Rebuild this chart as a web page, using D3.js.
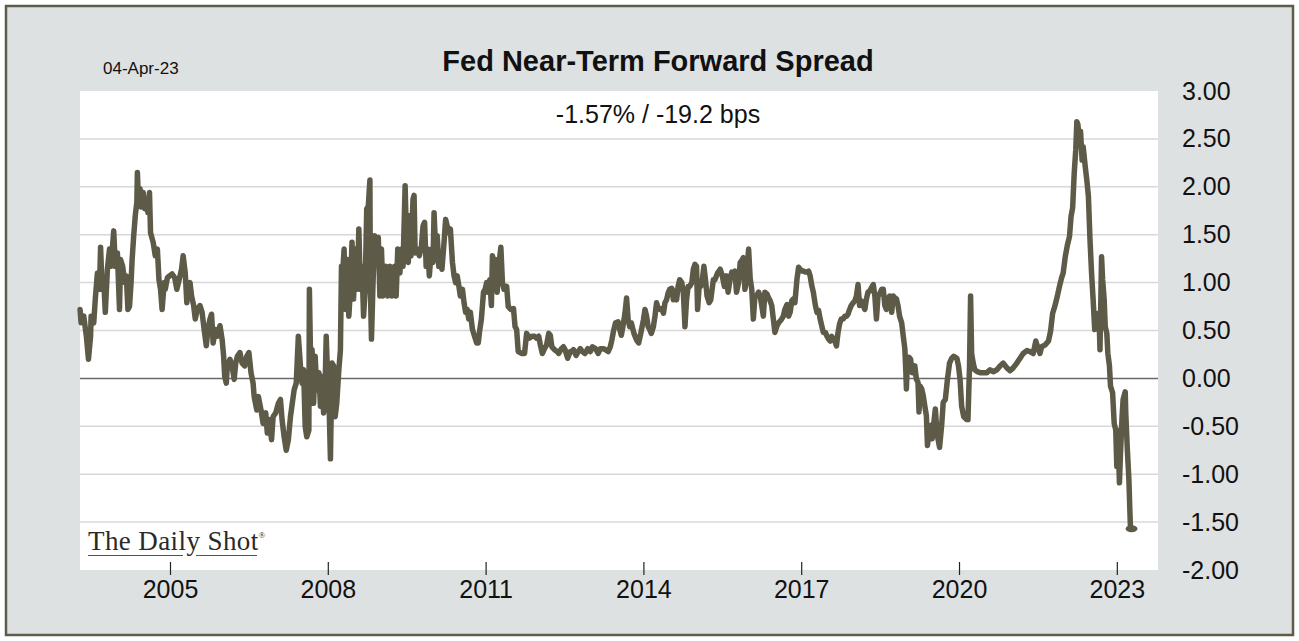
<!DOCTYPE html>
<html><head><meta charset="utf-8">
<script src="https://cdn.jsdelivr.net/npm/d3@7"></script>
<style>
html,body{margin:0;padding:0;background:#fff;}
svg{display:block;}
</style></head><body>
<svg id="chart" width="1299" height="641"></svg>
<script>
const titleText = "Fed Near-Term Forward Spread";
const dateLabel = "04-Apr-23";
const subtitleText = "-1.57% / -19.2 bps";
const logoText = "The Daily Shot";
const xTickYears = [2005, 2008, 2011, 2014, 2017, 2020, 2023];
const yTickValues = [3, 2.5, 2, 1.5, 1, 0.5, 0, -0.5, -1, -1.5, -2];

// decimal years (weekly-ish samples)
const years = [
 2003.29,2003.31,2003.36,2003.41,2003.45,2003.49,2003.50,2003.55,2003.58,2003.62,
 2003.66,2003.68,2003.71,2003.74,2003.77,2003.81,2003.85,2003.88,2003.93,2003.96,
 2004.00,2004.04,2004.06,2004.10,2004.14,2004.17,2004.20,2004.23,2004.26,2004.28,
 2004.31,2004.34,2004.37,2004.38,2004.40,2004.43,2004.45,2004.49,2004.52,2004.55,
 2004.58,2004.61,2004.63,2004.68,2004.72,2004.76,2004.79,2004.82,2004.85,2004.89,
 2004.91,2004.95,2004.99,2005.04,2005.09,2005.13,2005.17,2005.22,2005.25,2005.29,
 2005.32,2005.34,2005.38,2005.41,2005.45,2005.48,2005.52,2005.57,2005.61,2005.65,
 2005.69,2005.72,2005.76,2005.79,2005.82,2005.86,2005.90,2005.95,2005.99,2006.02,
 2006.04,2006.07,2006.09,2006.14,2006.18,2006.22,2006.25,2006.28,2006.33,2006.37,
 2006.42,2006.46,2006.50,2006.54,2006.58,2006.60,2006.65,2006.68,2006.73,2006.77,
 2006.82,2006.85,2006.89,2006.93,2006.96,2007.01,2007.06,2007.10,2007.13,2007.17,
 2007.21,2007.25,2007.29,
 2007.36,2007.40,2007.44,2007.48,2007.51,2007.54,2007.57,2007.60,2007.64,2007.65,
 2007.68,2007.70,2007.73,2007.76,2007.79,2007.83,2007.86,2007.89,2007.92,2007.95,
 2007.97,2008.00,2008.03,2008.05,2008.08,2008.11,2008.14,2008.17,2008.21,2008.24,
 2008.26,2008.29,2008.31,2008.34,2008.37,2008.40,2008.43,2008.46,2008.49,2008.52,
 2008.56,2008.59,2008.62,2008.65,2008.68,2008.71,2008.74,2008.77,2008.80,2008.81,
 2008.83,2008.86,2008.89,2008.92,2008.96,2008.99,2009.02,2009.05,2009.10,2009.14,
 2009.18,2009.22,2009.27,2009.30,2009.33,2009.37,2009.40,2009.43,2009.47,2009.50,
 2009.53,2009.56,2009.58,2009.62,2009.64,2009.66,2009.70,2009.74,2009.78,2009.81,
 2009.84,2009.87,2009.90,2009.93,2009.97,2010.00,2010.02,2010.05,2010.08,2010.11,
 2010.14,2010.17,2010.21,2010.24,2010.27,2010.30,2010.33,2010.37,2010.40,2010.43,
 2010.46,2010.49,2010.52,2010.56,2010.59,2010.62,2010.65,2010.68,2010.71,2010.75,
 2010.79,2010.83,2010.86,2010.89,2010.92,2010.96,2010.99,2011.02,2011.04,2011.08,
 2011.11,2011.13,2011.16,2011.19,2011.22,2011.25,2011.29,2011.32,2011.35,
 2011.40,2011.43,2011.48,2011.53,2011.56,2011.59,2011.62,2011.69,2011.74,2011.78,
 2011.83,2011.88,2011.93,2011.97,2012.01,2012.04,2012.08,2012.12,2012.16,2012.20,
 2012.23,2012.26,2012.31,2012.36,2012.39,2012.44,2012.48,2012.51,2012.56,2012.61,
 2012.64,2012.67,2012.72,2012.76,2012.80,2012.84,2012.89,2012.94,2012.99,2013.03,
 2013.09,2013.14,2013.18,2013.23,2013.28,2013.33,2013.37,2013.40,2013.43,2013.47,
 2013.52,2013.55,2013.58,2013.61,2013.65,2013.68,2013.71,2013.74,2013.77,2013.82,
 2013.87,2013.91,2013.95,2014.00,2014.03,2014.06,2014.09,2014.12,2014.15,2014.19,
 2014.22,2014.25,2014.28,2014.31,2014.35,2014.38,2014.41,2014.44,2014.47,2014.50,
 2014.54,2014.57,2014.60,2014.63,2014.66,2014.69,2014.73,2014.76,2014.79,2014.82,
 2014.85,2014.88,2014.92,2014.95,2014.98,2015.01,2015.03,2015.06,2015.09,2015.12,
 2015.15,2015.18,2015.21,2015.25,2015.28,2015.33,2015.36,2015.41,2015.46,2015.50,
 2015.54,
 2015.58,2015.61,2015.65,2015.68,2015.71,2015.74,2015.77,2015.81,2015.84,2015.87,
 2015.90,2015.93,2015.96,2016.00,2016.03,2016.06,2016.09,2016.12,2016.15,2016.19,
 2016.22,2016.25,2016.28,2016.31,2016.35,2016.38,2016.41,2016.44,2016.47,2016.50,
 2016.54,2016.57,2016.60,2016.63,2016.66,2016.69,2016.73,2016.76,2016.79,2016.82,
 2016.85,2016.88,2016.92,2016.95,2016.98,2017.01,2017.04,2017.08,2017.11,2017.14,
 2017.17,2017.20,2017.23,2017.27,2017.30,2017.33,2017.36,2017.39,2017.42,2017.46,
 2017.49,2017.52,2017.55,2017.58,2017.61,2017.64,2017.67,2017.70,2017.73,2017.76,
 2017.80,2017.83,2017.86,2017.89,2017.92,2017.95,2017.99,2018.02,2018.05,2018.08,
 2018.11,2018.14,2018.18,2018.21,2018.24,2018.27,2018.30,2018.34,2018.37,2018.40,
 2018.43,2018.46,2018.49,2018.53,2018.56,2018.59,2018.62,2018.65,2018.68,2018.72,
 2018.75,2018.78,2018.81,2018.84,2018.87,2018.91,2018.94,2018.97,2018.99,2019.00,
 2019.02,2019.05,2019.08,2019.11,2019.13,2019.16,2019.19,2019.22,2019.24,2019.26,
 2019.29,2019.32,2019.35,2019.38,2019.40,2019.43,2019.47,2019.49,2019.53,2019.55,
 2019.58,2019.60,2019.63,2019.67,2019.70,
 2019.74,2019.78,2019.82,2019.86,2019.90,2019.96,2019.99,2020.02,2020.05,2020.09,
 2020.15,2020.17,2020.20,2020.22,2020.24,2020.27,2020.30,2020.35,2020.40,2020.46,
 2020.53,2020.59,2020.65,2020.72,2020.78,2020.84,2020.91,2020.97,2021.03,2021.10,
 2021.16,2021.22,2021.29,2021.35,2021.41,2021.46,2021.50,2021.54,2021.57,2021.64,
 2021.70,2021.74,2021.78,2021.82,2021.87,2021.91,2021.95,2021.98,2022.02,2022.06,
 2022.10,2022.13,2022.16,2022.19,2022.22,2022.24,2022.26,2022.29,2022.31,2022.34,
 2022.36,2022.40,2022.43,2022.46,2022.49,2022.52,2022.55,2022.58,2022.60,2022.63,
 2022.66,2022.68,2022.71,2022.73,2022.76,2022.78,2022.81,2022.83,2022.86,2022.88,
 2022.92,2022.95,2022.98,2023.00,2023.02,2023.05,2023.07,2023.10,2023.12,2023.16,
 2023.17,2023.20,2023.23,2023.25,2023.26,2023.28
];

// spread, in percentage points
const spread = [
 0.72,0.58,0.65,0.44,0.20,0.44,0.65,0.58,0.83,1.10,
 0.93,1.37,0.93,1.03,0.69,1.14,1.35,1.17,1.54,1.17,
 1.31,0.72,1.24,1.17,1.00,1.07,0.72,0.75,1.00,1.24,
 1.49,1.70,1.84,2.15,1.87,1.98,1.79,1.94,1.77,1.87,
 1.73,1.94,1.52,1.42,1.28,1.35,1.03,0.93,0.72,1.00,
 0.93,1.05,1.07,1.09,1.05,0.93,1.02,1.14,1.28,1.10,
 0.79,0.97,1.00,0.86,0.76,0.62,0.72,0.76,0.69,0.51,
 0.34,0.51,0.62,0.67,0.37,0.51,0.44,0.55,0.41,0.23,
 0.02,-0.05,0.13,0.20,0.13,-0.01,0.16,0.23,0.27,0.16,
 0.13,0.23,0.27,0.06,-0.05,-0.19,-0.33,-0.19,-0.33,-0.47,
 -0.36,-0.57,-0.43,-0.64,-0.40,-0.36,-0.26,-0.22,-0.43,-0.61,
 -0.75,-0.64,-0.40,
 -0.12,-0.05,0.44,0.13,-0.05,0.09,-0.50,-0.61,-0.54,0.93,
 -0.05,0.30,-0.26,0.23,-0.12,0.06,-0.29,0.02,-0.36,-0.05,
 0.44,-0.05,-0.40,-0.84,0.16,0.13,-0.40,-0.26,0.09,0.30,
 1.17,1.17,1.35,0.72,1.24,0.65,0.93,1.42,0.83,1.35,
 0.93,1.56,0.93,1.17,0.65,0.93,1.77,1.80,2.07,0.93,
 0.41,1.00,1.49,1.35,1.47,0.86,1.35,0.86,1.17,0.86,
 1.17,0.86,1.17,0.86,1.35,1.10,1.35,1.17,2.01,1.35,
 1.21,1.70,1.28,1.87,1.91,1.31,1.35,1.28,1.38,1.59,
 1.63,1.17,1.35,1.07,1.35,1.21,1.73,1.35,1.49,1.17,
 1.24,1.14,1.42,1.66,1.59,1.52,1.56,1.21,1.07,1.00,
 1.07,0.97,0.86,0.93,0.79,0.69,0.72,0.62,0.69,0.51,
 0.44,0.37,0.37,0.51,0.62,0.90,0.93,1.00,0.90,1.03,
 0.76,1.28,1.00,1.24,0.90,1.17,1.37,1.00,0.93,
 0.96,0.75,0.72,0.73,0.54,0.51,0.28,0.26,0.26,0.47,
 0.42,0.44,0.44,0.42,0.44,0.35,0.26,0.31,0.35,0.47,
 0.45,0.33,0.30,0.28,0.26,0.31,0.33,0.30,0.21,0.28,
 0.28,0.30,0.24,0.28,0.31,0.28,0.26,0.31,0.28,0.33,
 0.31,0.26,0.31,0.31,0.30,0.28,0.33,0.40,0.49,0.58,
 0.59,0.51,0.45,0.54,0.68,0.84,0.61,0.54,0.58,0.47,
 0.40,0.37,0.47,0.61,0.72,0.65,0.54,0.51,0.47,0.54,
 0.65,0.79,0.73,0.72,0.73,0.68,0.79,0.82,0.89,0.93,
 0.94,0.82,0.91,0.82,0.96,1.03,1.00,0.89,0.54,0.82,
 0.96,0.96,1.00,1.14,1.19,1.17,0.72,0.96,0.96,1.03,
 1.17,1.03,0.86,0.79,0.82,1.03,1.03,1.10,1.14,1.07,
 0.96,
 1.07,0.90,1.04,1.11,1.07,1.12,0.90,1.00,1.21,1.23,
 1.26,0.93,1.04,1.35,1.04,0.93,0.62,0.86,0.86,0.90,
 0.86,0.76,0.65,0.90,0.88,0.84,0.81,0.76,0.62,0.48,
 0.55,0.58,0.60,0.62,0.65,0.72,0.77,0.65,0.69,0.81,
 0.83,0.79,1.04,1.16,1.14,1.12,1.12,1.11,1.11,1.12,
 1.07,0.97,0.90,0.76,0.69,0.71,0.62,0.55,0.48,0.48,
 0.44,0.41,0.39,0.44,0.41,0.39,0.34,0.48,0.57,0.62,
 0.62,0.65,0.65,0.67,0.72,0.76,0.79,0.81,0.86,0.98,
 0.76,0.81,0.76,0.72,0.83,0.90,0.91,0.95,0.98,0.86,
 0.62,0.86,0.88,0.93,0.93,0.76,0.72,0.83,0.86,0.69,
 0.86,0.84,0.83,0.76,0.65,0.58,0.44,0.31,0.06,-0.11,
 0.20,0.22,0.20,0.06,0.10,0.13,-0.01,-0.04,-0.35,-0.08,
 -0.11,-0.18,-0.29,-0.39,-0.70,-0.56,-0.49,-0.63,-0.42,-0.32,
 -0.56,-0.63,-0.72,-0.49,-0.25,
 -0.22,-0.01,0.16,0.21,0.23,0.21,0.13,-0.01,-0.29,-0.40,
 -0.43,-0.43,0.13,0.86,0.26,0.16,0.09,0.07,0.06,0.06,
 0.06,0.09,0.07,0.09,0.13,0.16,0.11,0.08,0.11,0.16,
 0.21,0.26,0.29,0.28,0.26,0.39,0.32,0.26,0.33,0.35,
 0.39,0.49,0.68,0.75,0.86,0.96,1.05,1.10,1.27,1.39,
 1.48,1.69,1.78,2.14,2.39,2.68,2.65,2.46,2.58,2.28,
 2.42,2.21,2.07,1.90,1.45,1.10,0.82,0.51,0.68,0.54,
 0.68,0.30,1.27,1.03,0.82,0.54,0.47,0.26,0.13,-0.08,
 -0.15,-0.47,-0.54,-0.92,-0.54,-1.09,-0.78,-0.40,-0.22,-0.14,
 -0.36,-0.74,-1.06,-1.41,-1.56,-1.57
];

const data = years.map((yr, i) => ({ yr: yr, v: spread[i] }));
const last = data[data.length - 1];

const svg = d3.select("#chart");
const W = 1299, H = 641;
const plot = { left: 80, right: 1158, top: 91, bottom: 570 };
const lineColor = "#5d5a48";
const fontSans = "'Liberation Sans', Arial, Helvetica, sans-serif";

// outer frame
svg.append("rect").attr("x", 6).attr("y", 6).attr("width", W - 12).attr("height", H - 12)
  .attr("fill", "#dee1e2").attr("stroke", "#5e5b4b").attr("stroke-width", 2.5);

// plot area
svg.append("rect").attr("x", plot.left).attr("y", plot.top)
  .attr("width", plot.right - plot.left).attr("height", plot.bottom - plot.top)
  .attr("fill", "#ffffff");

const x = d3.scaleLinear().domain([2003.289, 2023.783]).range([plot.left, plot.right]);
const y = d3.scaleLinear().domain([-2, 3]).range([plot.bottom, plot.top]);

// gridlines
svg.append("g").selectAll("line")
  .data(yTickValues.filter(v => v !== 0 && v !== 3 && v !== -2))
  .join("line")
  .attr("x1", plot.left).attr("x2", plot.right)
  .attr("y1", d => y(d)).attr("y2", d => y(d))
  .attr("stroke", "#d8d8d8").attr("stroke-width", 1.5);

// zero line
svg.append("line").attr("x1", plot.left).attr("x2", plot.right)
  .attr("y1", y(0)).attr("y2", y(0))
  .attr("stroke", "#6a6a6a").attr("stroke-width", 1.5);

// x axis
const xAxis = svg.append("g").attr("transform", `translate(0,${plot.bottom - 8})`)
  .call(d3.axisBottom(x).tickValues(xTickYears).tickFormat(d => String(d))
    .tickSize(13).tickPadding(5));
xAxis.select(".domain").remove();
xAxis.selectAll(".tick line").attr("stroke", "#222").attr("stroke-width", 1.2);
xAxis.selectAll(".tick text").attr("font-family", fontSans).attr("font-size", 25).attr("fill", "#111");

// y axis (right)
const yAxis = svg.append("g").attr("transform", `translate(${plot.right},0)`)
  .call(d3.axisRight(y).tickValues(yTickValues).tickFormat(d => d.toFixed(2))
    .tickSize(0).tickPadding(24));
yAxis.select(".domain").remove();
yAxis.selectAll(".tick text").attr("font-family", fontSans).attr("font-size", 25).attr("fill", "#111");

// series line
const line = d3.line().x(d => x(d.yr)).y(d => y(d.v));
svg.append("path").datum(data)
  .attr("d", line)
  .attr("fill", "none").attr("stroke", lineColor).attr("stroke-width", 5.5)
  .attr("stroke-linejoin", "round").attr("stroke-linecap", "round");

// end marker
svg.append("ellipse").attr("cx", x(last.yr)).attr("cy", y(last.v))
  .attr("rx", 6).attr("ry", 3.5).attr("fill", lineColor);

// texts
svg.append("text").attr("x", 658).attr("y", 71).attr("text-anchor", "middle")
  .attr("font-family", fontSans).attr("font-size", 29).attr("font-weight", "bold")
  .attr("fill", "#111").text(titleText);

svg.append("text").attr("x", 103).attr("y", 74)
  .attr("font-family", fontSans).attr("font-size", 17).attr("fill", "#111").text(dateLabel);

svg.append("text").attr("x", 658).attr("y", 123).attr("text-anchor", "middle")
  .attr("font-family", fontSans).attr("font-size", 25).attr("fill", "#111").text(subtitleText);

// logo
const logo = svg.append("text").attr("x", 88).attr("y", 550)
  .attr("font-family", "'Liberation Serif', 'DejaVu Serif', serif")
  .attr("font-size", 27).attr("letter-spacing", 0.4).attr("fill", "#2a2a2a");
logo.append("tspan").text(logoText);
logo.append("tspan").attr("font-size", 9).attr("dy", -12).text("®");
svg.append("line").attr("x1", 88).attr("x2", 183).attr("y1", 555.5).attr("y2", 555.5)
  .attr("stroke", "#555").attr("stroke-width", 1);
svg.append("line").attr("x1", 196).attr("x2", 257).attr("y1", 555.5).attr("y2", 555.5)
  .attr("stroke", "#555").attr("stroke-width", 1);
</script>
</body></html>
